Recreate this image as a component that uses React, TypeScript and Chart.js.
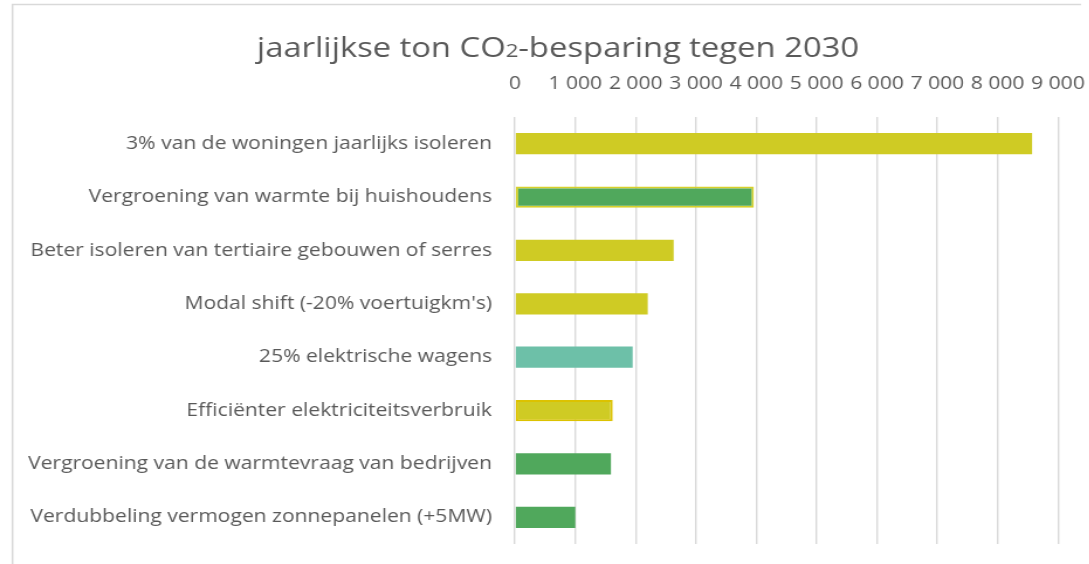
import React, { useEffect, useRef } from "react";
import { Chart, registerables } from "chart.js";

Chart.register(...registerables);

const categories = [
  "3% van de woningen jaarlijks isoleren",
  "Vergroening van warmte bij huishoudens",
  "Beter isoleren van tertiaire gebouwen of serres",
  "Modal shift (-20% voertuigkm's)",
  "25% elektrische wagens",
  "Efficiënter elektriciteitsverbruik",
  "Vergroening van de warmtevraag van bedrijven",
  "Verdubbeling vermogen zonnepanelen (+5MW)",
];
const values = [8570, 3960, 2630, 2200, 1950, 1620, 1590, 1000];
const fillColors = ["#CFCB24", "#50A85C", "#CFCB24", "#CFCB24", "#6DC0A8", "#CFCB24", "#50A85C", "#50A85C"];
const borderColors = ["#CFCB24", "#D6D02A", "#CFCB24", "#CFCB24", "#6DC0A8", "#DCC200", "#50A85C", "#50A85C"];
const borderWidths = [0, 2, 0, 0, 0, 2, 0, 0];
const titleParts = ["jaarlijkse ton CO", "2", "-besparing tegen 2030"];
const axisMin = 0;
const axisMax = 9000;
const axisStep = 1000;

const FONT = "'Open Sans', 'DejaVu Sans', sans-serif";
const TEXT = "#595959";

// the picture is horizontally wider than its text height suggests: draw narrower, then stretch
const STRETCH = 1.17;
const OUT_W = 1089;
const OUT_H = 564;
const W = Math.round(OUT_W / STRETCH);
const px = (x: number) => x / STRETCH;

function fmt(v: number): string {
  return String(v).replace(/\B(?=(\d{3})+(?!\d))/g, " ");
}

const framePlugin = {
  id: "frame",
  beforeDraw(chart: any) {
    const ctx = chart.ctx;
    ctx.save();
    ctx.strokeStyle = "#d9d9d9";
    ctx.lineWidth = 1.5;
    ctx.beginPath();
    ctx.moveTo(px(12.5), OUT_H);
    ctx.lineTo(px(12.5), 4.5);
    ctx.lineTo(px(1081), 4.5);
    ctx.stroke();
    ctx.restore();
  },
  afterDraw(chart: any) {
    const ctx = chart.ctx;
    ctx.save();
    ctx.fillStyle = TEXT;
    ctx.textBaseline = "alphabetic";
    ctx.textAlign = "left";
    const big = `28px ${FONT}`;
    const small = `19px ${FONT}`;
    ctx.font = big;
    const w0 = ctx.measureText(titleParts[0]).width;
    const w2 = ctx.measureText(titleParts[2]).width;
    ctx.font = small;
    const w1 = ctx.measureText(titleParts[1]).width;
    const total = w0 + w1 + w2;
    let x = px(558) - total / 2;
    const y = 57;
    ctx.font = big;
    ctx.fillText(titleParts[0], x, y);
    x += w0;
    ctx.font = small;
    ctx.fillText(titleParts[1], x, y);
    x += w1;
    ctx.font = big;
    ctx.fillText(titleParts[2], x, y);
    ctx.restore();
  },
};

export default function App() {
  const ref = useRef<HTMLCanvasElement>(null);
  useEffect(() => {
    if (!ref.current) return;
    const chart = new Chart(ref.current, {
      type: "bar",
      data: {
        labels: categories,
        datasets: [
          {
            data: values,
            backgroundColor: fillColors,
            borderColor: borderColors,
            borderWidth: borderWidths,
            borderSkipped: false,
            categoryPercentage: 1,
            barPercentage: 0.4,
          },
        ],
      },
      options: {
        indexAxis: "y",
        animation: false,
        responsive: false,
        maintainAspectRatio: false,
        layout: { padding: { left: 0, right: W - px(1058), top: 0, bottom: OUT_H - 544 } },
        plugins: {
          legend: { display: false },
          title: { display: false },
          tooltip: { enabled: false },
        },
        scales: {
          x: {
            position: "top",
            min: axisMin,
            max: axisMax,
            ticks: {
              stepSize: axisStep,
              color: TEXT,
              font: { family: FONT, size: 18 },
              padding: 22,
              autoSkip: false,
              maxRotation: 0,
              minRotation: 0,
              callback: (v: any) => fmt(Number(v)),
            },
            grid: { color: "#d9d9d9", lineWidth: 1.4, drawTicks: false },
            border: { display: false },
            afterFit: (s: any) => {
              s.height = 117;
              s.paddingLeft = 0;
              s.paddingRight = 0;
            },
          },
          y: {
            ticks: {
              color: TEXT,
              font: { family: FONT, size: 18 },
              padding: px(23),
              autoSkip: false,
            },
            grid: { display: false, drawTicks: false },
            border: { display: false },
            afterFit: (s: any) => {
              s.width = px(515);
              s.paddingTop = 0;
              s.paddingBottom = 0;
            },
          },
        },
      },
      plugins: [framePlugin],
    });
    return () => chart.destroy();
  }, []);
  return (
    <div
      style={{
        position: "absolute",
        left: 0,
        top: 0,
        width: OUT_W,
        height: OUT_H,
        overflow: "hidden",
        background: "#fff",
      }}
    >
      <canvas
        ref={ref}
        width={W}
        height={OUT_H}
        style={{
          display: "block",
          width: W,
          height: OUT_H,
          transform: `scaleX(${STRETCH})`,
          transformOrigin: "0 0",
        }}
      />
    </div>
  );
}
